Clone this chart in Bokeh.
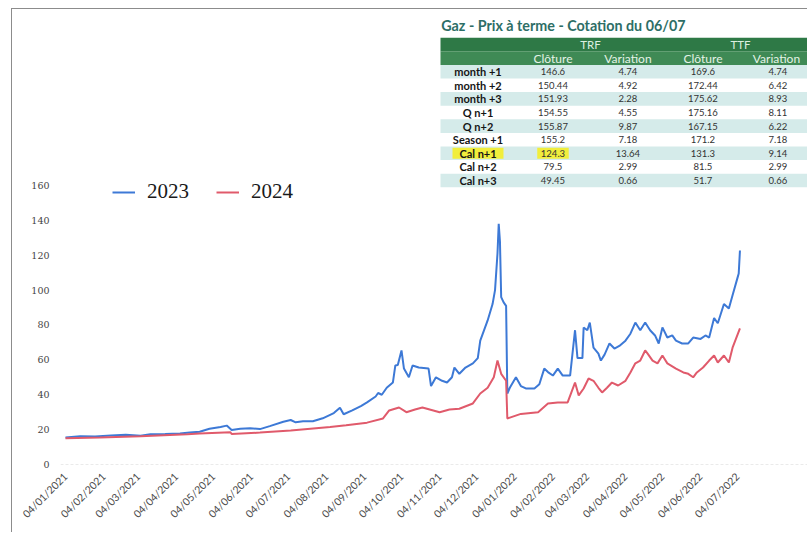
import numpy as np
import pandas as pd
from bokeh.plotting import figure
from bokeh.models import (Range1d, FixedTicker, DatetimeTickFormatter, Legend,
                          LegendItem, Span, ColumnDataSource)
from bokeh.core.properties import value
from bokeh.embed import file_html
from bokeh.resources import INLINE

# ---------------- data ----------------
blue_dates = ["2021-01-04", "2021-01-16", "2021-01-28", "2021-02-10", "2021-02-22", "2021-03-06",
              "2021-03-14", "2021-03-26", "2021-04-07", "2021-04-15", "2021-04-23", "2021-05-01",
              "2021-05-10", "2021-05-15", "2021-05-19", "2021-05-26", "2021-06-03", "2021-06-11",
              "2021-06-19", "2021-06-30", "2021-07-06", "2021-07-10", "2021-07-16", "2021-07-24",
              "2021-08-01", "2021-08-10", "2021-08-15", "2021-08-18", "2021-08-25", "2021-09-01",
              "2021-09-06", "2021-09-13", "2021-09-15", "2021-09-18", "2021-09-22", "2021-09-27",
              "2021-09-29", "2021-10-01", "2021-10-04", "2021-10-06", "2021-10-10", "2021-10-13",
              "2021-10-18", "2021-10-26", "2021-10-28", "2021-11-01", "2021-11-06", "2021-11-10",
              "2021-11-14", "2021-11-16", "2021-11-20", "2021-11-25", "2021-12-01", "2021-12-05",
              "2021-12-07", "2021-12-13", "2021-12-17", "2021-12-19", "2021-12-21", "2021-12-22",
              "2021-12-23", "2021-12-24", "2021-12-26", "2021-12-28", "2021-12-29", "2021-12-31",
              "2022-01-05", "2022-01-09", "2022-01-13", "2022-01-20", "2022-01-24", "2022-01-28",
              "2022-01-31", "2022-02-04", "2022-02-08", "2022-02-12", "2022-02-18", "2022-02-22",
              "2022-02-24", "2022-02-28", "2022-03-01", "2022-03-04", "2022-03-06", "2022-03-09",
              "2022-03-13", "2022-03-15", "2022-03-18", "2022-03-22", "2022-03-26", "2022-03-30",
              "2022-04-04", "2022-04-08", "2022-04-12", "2022-04-16", "2022-04-20", "2022-04-24",
              "2022-04-28", "2022-05-01", "2022-05-04", "2022-05-08", "2022-05-12", "2022-05-15",
              "2022-05-20", "2022-05-25", "2022-05-29", "2022-06-04", "2022-06-08", "2022-06-11",
              "2022-06-15", "2022-06-18", "2022-06-23", "2022-06-27", "2022-06-30", "2022-07-04",
              "2022-07-05", "2022-07-06"]
blue_values = [15.5, 16.2, 16.0, 16.6, 17.0, 16.5,
               17.3, 17.5, 17.8, 18.3, 18.8, 20.5,
               21.5, 22.3, 19.8, 20.5, 20.8, 20.3,
               22.0, 24.5, 25.5, 24.2, 24.8, 24.8,
               26.5, 29.5, 32.5, 28.8, 31.0, 33.5,
               35.6, 39.0, 41.0, 40.0, 44.0, 47.0,
               56.8, 57.0, 65.4, 55.0, 50.0, 56.8,
               55.6, 55.0, 45.0, 50.0, 48.0, 47.0,
               50.0, 55.6, 52.0, 55.6, 58.0, 61.0,
               71.0, 82.6, 92.0, 100.0, 121.0, 138.0,
               128.0, 96.0, 93.0, 91.0, 40.7, 44.0,
               50.0, 45.0, 43.6, 43.6, 46.0, 55.0,
               53.0, 51.0, 55.0, 51.0, 51.0, 77.0,
               61.0, 61.0, 78.6, 77.0, 81.4, 67.0,
               63.6, 59.6, 63.0, 69.4, 66.5, 68.0,
               71.0, 75.0, 81.4, 77.0, 81.4, 77.0,
               74.0, 69.4, 78.6, 72.8, 74.0, 71.0,
               69.4, 69.4, 72.8, 72.0, 74.0, 72.8,
               84.0, 81.0, 92.0, 89.5, 97.0, 107.0,
               109.5, 122.7]

red_dates = ["2021-01-04", "2021-02-01", "2021-03-06", "2021-04-13", "2021-04-23", "2021-05-18",
             "2021-05-19", "2021-06-11", "2021-07-06", "2021-08-07", "2021-08-20", "2021-09-06",
             "2021-09-19", "2021-09-24", "2021-10-02", "2021-10-08", "2021-10-15", "2021-10-21",
             "2021-11-04", "2021-11-12", "2021-11-20", "2021-12-01", "2021-12-07", "2021-12-13",
             "2021-12-18", "2021-12-21", "2021-12-24", "2021-12-28", "2021-12-29", "2022-01-09",
             "2022-01-23", "2022-01-31", "2022-02-08", "2022-02-16", "2022-02-22", "2022-02-25",
             "2022-03-01", "2022-03-05", "2022-03-09", "2022-03-13", "2022-03-16", "2022-03-20",
             "2022-03-24", "2022-03-29", "2022-04-04", "2022-04-08", "2022-04-12", "2022-04-16",
             "2022-04-20", "2022-04-22", "2022-04-26", "2022-04-30", "2022-05-04", "2022-05-08",
             "2022-05-15", "2022-05-21", "2022-05-25", "2022-05-29", "2022-06-01", "2022-06-06",
             "2022-06-11", "2022-06-15", "2022-06-18", "2022-06-23", "2022-06-27", "2022-06-30",
             "2022-07-06"]
red_values = [15.0, 15.5, 16.2, 17.3, 17.8, 18.5,
              17.5, 18.3, 19.5, 21.5, 22.5, 24.0,
              26.4, 31.0, 32.7, 30.0, 31.5, 32.7,
              30.0, 31.5, 32.0, 35.0, 40.7, 44.0,
              50.0, 59.6, 52.0, 48.0, 26.4, 29.0,
              30.0, 35.0, 35.6, 35.6, 47.0, 39.6,
              43.6, 49.3, 48.0, 44.0, 41.3, 44.0,
              47.0, 45.3, 48.0, 52.8, 58.0, 59.6,
              65.4, 63.6, 59.6, 58.0, 62.5, 58.0,
              55.0, 52.8, 52.0, 50.0, 52.8, 55.6,
              59.6, 62.5, 58.5, 62.5, 58.5, 67.0,
              78.0]

series_names = ["2023", "2024"]

tick_dates = ["2021-01-04", "2021-02-04", "2021-03-04", "2021-04-04", "2021-05-04", "2021-06-04",
              "2021-07-04", "2021-08-04", "2021-09-04", "2021-10-04", "2021-11-04", "2021-12-04",
              "2022-01-04", "2022-02-04", "2022-03-04", "2022-04-04", "2022-05-04", "2022-06-04",
              "2022-07-04"]
y_ticks = [0, 20, 40, 60, 80, 100, 120, 140, 160]

table_title = "Gaz - Prix à terme - Cotation du 06/07"
table_groups = ["TRF", "TTF"]
table_columns = ["Clôture", "Variation", "Clôture", "Variation"]
table_rows = ["month +1", "month +2", "month +3", "Q n+1", "Q n+2", "Season +1",
              "Cal n+1", "Cal n+2", "Cal n+3"]
trf_close = ["146.6", "150.44", "151.93", "154.55", "155.87", "155.2", "124.3", "79.5", "49.45"]
trf_var = ["4.74", "4.92", "2.28", "4.55", "9.87", "7.18", "13.64", "2.99", "0.66"]
ttf_close = ["169.6", "172.44", "175.62", "175.16", "167.15", "171.2", "131.3", "81.5", "51.7"]
ttf_var = ["4.74", "6.42", "8.93", "8.11", "6.22", "7.18", "9.14", "2.99", "0.66"]
highlight_row = "Cal n+1"

# ---------------- figure ----------------
def ms(d):
    return pd.Timestamp(d).value / 1e6

day = 86400000.0
x0 = ms("2021-01-04")

p = figure(width=796, height=524, x_axis_type="datetime", output_backend="svg",
           toolbar_location=None,
           x_range=Range1d(x0 - 4.06 * day, x0 + 603.7 * day),
           y_range=Range1d(0, 260.9),
           min_border_left=48, min_border_right=0, min_border_top=0, min_border_bottom=69)
p.styles = {"margin-left": "11px", "margin-top": "8px",
            "border-left": "1px solid #8c8c8c", "border-top": "1px solid #8c8c8c"}
p.outline_line_color = None
p.xgrid.grid_line_color = None
p.ygrid.grid_line_color = None
p.background_fill_color = "white"
p.border_fill_color = "white"

p.extra_x_ranges = {"tx": Range1d(-5.567, 4.407)}
p.extra_y_ranges = {"ty": Range1d(30.88, -2.574)}

# axes
p.yaxis.ticker = FixedTicker(ticks=y_ticks)
p.yaxis.axis_line_color = None
p.yaxis.major_tick_line_color = None
p.yaxis.minor_tick_line_color = None
p.yaxis.major_label_standoff = 5
p.yaxis.major_label_text_font = "DejaVu Serif"
p.yaxis.major_label_text_font_size = "9.5px"
p.yaxis.major_label_text_color = "#444444"

p.xaxis.ticker = FixedTicker(ticks=[ms(d) for d in tick_dates])
fmt = "%d/%m/%Y"
p.xaxis.formatter = DatetimeTickFormatter(milliseconds=fmt, seconds=fmt, minsec=fmt, minutes=fmt,
                                          hourmin=fmt, hours=fmt, days=fmt, months=fmt, years=fmt)
p.xaxis.axis_line_color = None
p.xaxis.major_tick_line_color = None
p.xaxis.minor_tick_line_color = None
p.xaxis.major_label_orientation = np.pi / 4
p.xaxis.major_label_standoff = 4
p.xaxis.major_label_text_font = "Lato"
p.xaxis.major_label_text_font_size = "10.5px"
p.xaxis.major_label_text_color = "#4a4a4a"

p.add_layout(Span(location=0, dimension="width", line_color="#d6d6d6",
                  line_dash="3 2", line_width=1))

# series
r_blue = p.line(x=pd.to_datetime(blue_dates), y=blue_values, line_color="#3d79d6", line_width=2)
r_red = p.line(x=pd.to_datetime(red_dates), y=red_values, line_color="#e05a6b", line_width=2)

legend = Legend(items=[LegendItem(label=series_names[0], renderers=[r_blue]),
                       LegendItem(label=series_names[1], renderers=[r_red])],
                orientation="horizontal", location=(52, 260),
                label_text_font="Liberation Serif", label_text_font_size="21px",
                label_text_color="#1a1a1a",
                glyph_width=23, glyph_height=24, label_height=24, label_standoff=12,
                spacing=27, padding=0, margin=0, border_line_color=None,
                background_fill_alpha=0)
p.add_layout(legend)

# ---------------- table ----------------
n = len(table_rows)
row_idx = [i + 2 for i in range(n)]

# header backgrounds
p.rect(x=[2, 2], y=[0, 1], width=5, height=1, fill_color=["#2e7946", "#3f8a55"],
       line_color=None, x_range_name="tx", y_range_name="ty")
# striped rows
stripe_y = [r for i, r in enumerate(row_idx) if i % 2 == 0]
p.rect(x=[2] * len(stripe_y), y=stripe_y, width=5, height=1, fill_color="#d5ebea",
       line_color=None, x_range_name="tx", y_range_name="ty")
# highlight
hi = table_rows.index(highlight_row) + 2
p.rect(x=[0, 1], y=[hi, hi], width=[0.68, 0.42], height=0.8, fill_color="#f1ee3c",
       line_color=None, x_range_name="tx", y_range_name="ty")

# title
p.text(x=[-0.49], y=[-1.4], text=[table_title], text_font=value("Lato"),
       text_font_style="bold", text_font_size="14.3px", text_color="#2d6e66",
       text_align="left", text_baseline="middle", x_range_name="tx", y_range_name="ty")

# header texts
p.text(x=[1.5, 3.5], y=[0, 0], text=table_groups, text_font=value("Lato"),
       text_font_size="11.5px", text_color="#dcefe0", text_align="center",
       text_baseline="middle", x_range_name="tx", y_range_name="ty")
p.text(x=[1, 2, 3, 3.98], y=[1, 1, 1, 1], text=table_columns, text_font=value("Lato"),
       text_font_size="12px", text_color="#e4f3e6", text_align="center",
       text_baseline="middle", x_range_name="tx", y_range_name="ty")

# row labels
p.text(x=[0] * n, y=row_idx, text=table_rows, text_font=value("Lato"),
       text_font_style="bold", text_font_size="11px", text_color="#151515",
       text_align="center", text_baseline="middle", x_range_name="tx", y_range_name="ty")
# values
cells = ColumnDataSource(dict(
    x=[1] * n + [2] * n + [3] * n + [4] * n,
    y=row_idx * 4,
    t=trf_close + trf_var + ttf_close + ttf_var))
p.text(x="x", y="y", text="t", source=cells, text_font=value("Lato"),
       text_font_size="9.5px", text_color="#333333", text_align="center",
       text_baseline="middle", x_range_name="tx", y_range_name="ty")

open("out.html", "w").write(file_html(p, INLINE))
